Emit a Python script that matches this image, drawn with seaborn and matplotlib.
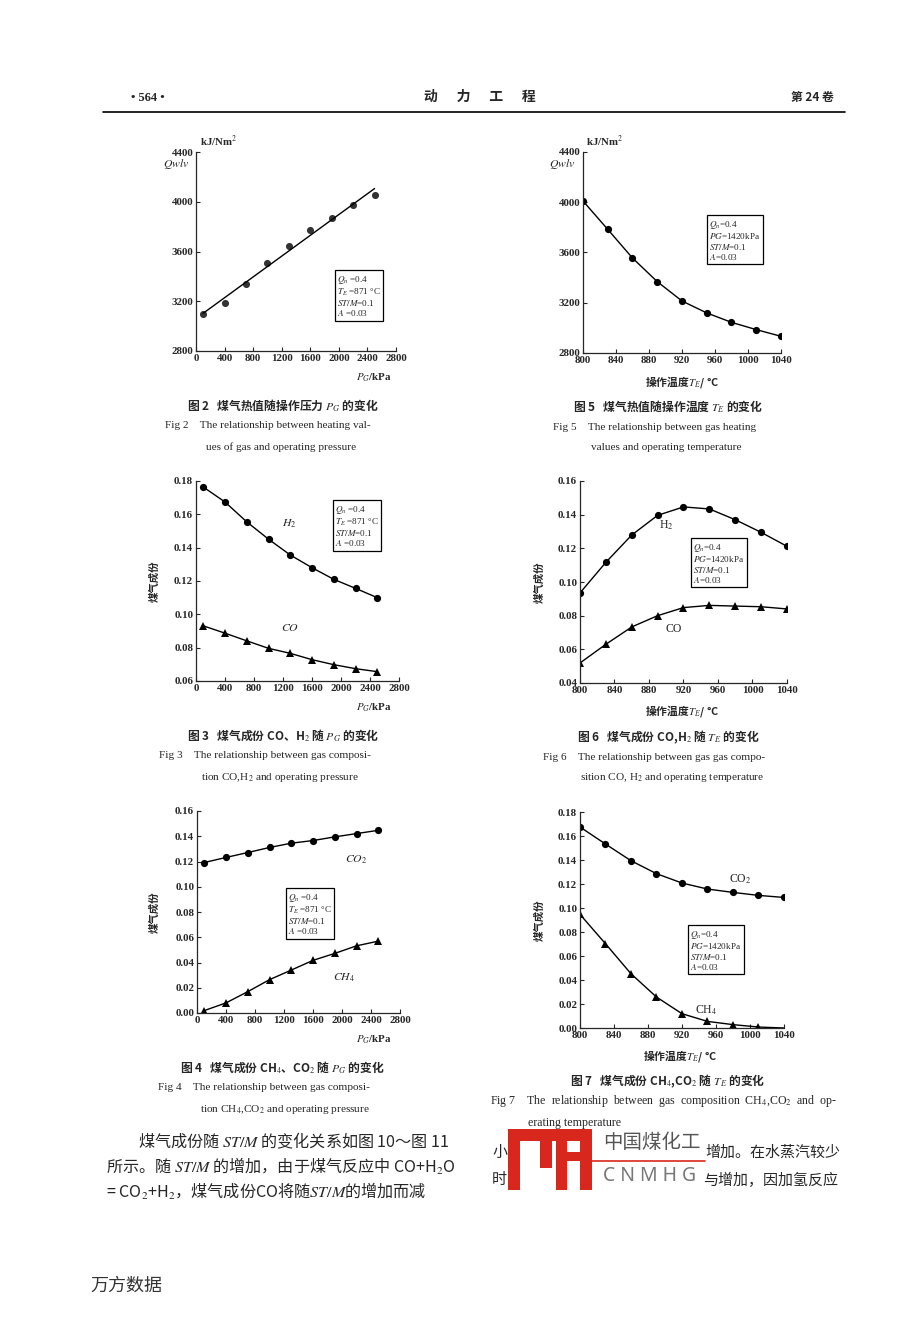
"""Gas heating value and composition vs operating pressure / temperature (page 564)."""
import matplotlib.pyplot as plt
from matplotlib.lines import Line2D
from matplotlib.patches import Rectangle
import seaborn as sns

# ---- data ----
pg_kpa = [100, 400, 700, 1000, 1300, 1600, 1900, 2200, 2500]
te_c = [800, 830, 860, 890, 920, 950, 980, 1010, 1040]

q_vs_pg = [3095, 3189, 3339, 3505, 3642, 3770, 3872, 3977, 4052]
q_vs_te = [4010, 3784, 3556, 3368, 3214, 3119, 3044, 2986, 2933]

h2_vs_pg = [0.1764, 0.1674, 0.1555, 0.1451, 0.1356, 0.1280, 0.1210, 0.1156, 0.1100]
co_vs_pg = [0.0931, 0.0887, 0.0841, 0.0796, 0.0766, 0.0728, 0.0698, 0.0674, 0.0656]
h2_vs_te = [0.0935, 0.1117, 0.1279, 0.1396, 0.1446, 0.1434, 0.1370, 0.1295, 0.1212]
co_vs_te = [0.0519, 0.0630, 0.0733, 0.0800, 0.0848, 0.0861, 0.0857, 0.0853, 0.0840]

co2_vs_pg = [0.1192, 0.1232, 0.1271, 0.1311, 0.1345, 0.1366, 0.1395, 0.1421, 0.1447]
ch4_vs_pg = [0.0019, 0.0080, 0.0169, 0.0264, 0.0340, 0.0417, 0.0472, 0.0532, 0.0569]
co2_vs_te = [0.1675, 0.1533, 0.1394, 0.1286, 0.1208, 0.1158, 0.1130, 0.1105, 0.1088]
ch4_vs_te = [0.0947, 0.0702, 0.0452, 0.0258, 0.0119, 0.0055, 0.0028, 0.0008, 0.0000]

pg_ticks = [0, 400, 800, 1200, 1600, 2000, 2400, 2800]
te_ticks = [800, 840, 880, 920, 960, 1000, 1040]
q_ticks = [2800, 3200, 3600, 4000, 4400]

box_pg = "$Q_n$ =0.4\n$T_E$ =871 °C\n$ST/M$=0.1\n$A$ =0.03"
box_te = "$Q_n$=0.4\n$PG$=1420kPa\n$ST/M$=0.1\n$A$=0.03"

W, H = 904, 1320
CJK = ["Noto Sans CJK SC", "DejaVu Sans"]

sns.set_style("ticks")
plt.rcParams["font.family"] = ["Liberation Serif", "Noto Sans CJK SC"]
plt.rcParams["mathtext.fontset"] = "stix"
plt.rcParams["axes.unicode_minus"] = False

fig = plt.figure(figsize=(W / 100, H / 100), dpi=100)


def put(x, y, s, size=8, ha="left", va="center", **kw):
    """Text at page pixel coordinates."""
    return fig.text(x / W, 1 - y / H, s, fontsize=size, ha=ha, va=va, **kw)


def panel(l, t, r, b, xlim, xticks, ylim, yticks, yfmt):
    ax = fig.add_axes([l / W, 1 - b / H, (r - l) / W, (b - t) / H])
    ax.set_xlim(xlim)
    ax.set_ylim(ylim)
    ax.set_xticks(xticks)
    ax.set_yticks(yticks)
    ax.set_yticklabels([yfmt.format(v) for v in yticks])
    sns.despine(ax=ax)
    for sp in ("left", "bottom"):
        ax.spines[sp].set_linewidth(0.9)
    ax.tick_params(direction="in", length=3, width=0.8, labelsize=7.8, pad=2)
    for lab in ax.get_xticklabels() + ax.get_yticklabels():
        lab.set_fontweight("bold")
    return ax


def series(ax, x, y, marker, ms=5.2):
    sns.lineplot(x=x, y=y, ax=ax, color="black", lw=1.0, marker=marker,
                 markersize=ms, markeredgewidth=0, markerfacecolor="black")


def finish(ax, l, r, t, b, xlabel, xlab_px, ylab_px=None):
    ax.set_xlabel(xlabel, fontsize=7.8, fontweight="bold", family=CJK if "操" in xlabel else None)
    ax.xaxis.set_label_coords((xlab_px[0] - l) / (r - l), (b - xlab_px[1]) / (b - t))
    if ylab_px is None:
        ax.set_ylabel("")
    else:
        ax.set_ylabel("煤气成份", fontsize=7.5, fontweight="bold", family=CJK)
        ax.yaxis.set_label_coords((ylab_px - l) / (r - l), 0.5)


def info_box(x, y, s):
    put(x, y, s, size=6.6, va="top", linespacing=1.05,
        bbox=dict(boxstyle="square,pad=0.25", fc="white", ec="black", lw=0.9))


# ---- Fig 2: heating value vs pressure ----
l, t, r, b = 196, 152, 396, 351
ax2 = panel(l, t, r, b, (0, 2800), pg_ticks, (2800, 4400), q_ticks, "{:d}")
sns.regplot(x=pg_kpa, y=q_vs_pg, ax=ax2, ci=None, color="black",
            scatter_kws=dict(s=26, linewidths=0),
            line_kws=dict(lw=1.0))
finish(ax2, l, r, t, b, "$P_G$/kPa", (374, 371))
put(200, 141, "kJ/Nm$^2$", size=7.8, weight="bold")
put(176, 164, "$\\mathit{Qwlv}$", size=8.5, ha="center")
info_box(337, 274, box_pg)

# ---- Fig 5: heating value vs temperature ----
l, t, r, b = 583, 152, 781, 353
ax5 = panel(l, t, r, b, (800, 1040), te_ticks, (2800, 4400), q_ticks, "{:d}")
series(ax5, te_c, q_vs_te, "o")
finish(ax5, l, r, t, b, "操作温度$T_E$/ °C", (682, 374))
put(586, 141, "kJ/Nm$^2$", size=7.8, weight="bold")
put(562, 164, "$\\mathit{Qwlv}$", size=8.5, ha="center")
info_box(709, 219, box_te)

# ---- Fig 3: CO, H2 vs pressure ----
l, t, r, b = 196, 481, 399, 681
ax3 = panel(l, t, r, b, (0, 2800), pg_ticks, (0.06, 0.18),
            [0.06, 0.08, 0.10, 0.12, 0.14, 0.16, 0.18], "{:.2f}")
series(ax3, pg_kpa, h2_vs_pg, "o")
series(ax3, pg_kpa, co_vs_pg, "^")
finish(ax3, l, r, t, b, "$P_G$/kPa", (374, 702), ylab_px=160)
info_box(335, 504, box_pg)
put(289, 524, "$H_2$", size=8.5, ha="center")
put(290, 628, "$CO$", size=8.5, ha="center")

# ---- Fig 6: CO, H2 vs temperature ----
l, t, r, b = 580, 481, 787, 683
ax6 = panel(l, t, r, b, (800, 1040), te_ticks, (0.04, 0.16),
            [0.04, 0.06, 0.08, 0.10, 0.12, 0.14, 0.16], "{:.2f}")
series(ax6, te_c, h2_vs_te, "o")
series(ax6, te_c, co_vs_te, "^")
finish(ax6, l, r, t, b, "操作温度$T_E$/ °C", (682, 703), ylab_px=545)
info_box(693, 542, box_te)
put(666, 525, "H$_2$", size=8.5, ha="center")
put(674, 629, "CO", size=8.5, ha="center")

# ---- Fig 4: CH4, CO2 vs pressure ----
l, t, r, b = 197, 811, 400, 1013
ax4 = panel(l, t, r, b, (0, 2800), pg_ticks, (0.0, 0.16),
            [0.00, 0.02, 0.04, 0.06, 0.08, 0.10, 0.12, 0.14, 0.16], "{:.2f}")
series(ax4, pg_kpa, co2_vs_pg, "o")
series(ax4, pg_kpa, ch4_vs_pg, "^")
finish(ax4, l, r, t, b, "$P_G$/kPa", (374, 1033), ylab_px=160)
info_box(288, 892, box_pg)
put(356, 860, "$CO_2$", size=8.5, ha="center")
put(344, 978, "$CH_4$", size=8.5, ha="center")

# ---- Fig 7: CH4, CO2 vs temperature ----
l, t, r, b = 580, 812, 784, 1028
ax7 = panel(l, t, r, b, (800, 1040), te_ticks, (0.0, 0.18),
            [0.00, 0.02, 0.04, 0.06, 0.08, 0.10, 0.12, 0.14, 0.16, 0.18], "{:.2f}")
series(ax7, te_c, co2_vs_te, "o")
series(ax7, te_c, ch4_vs_te, "^")
ax7.lines[-1].set_markevery(slice(0, 8))
finish(ax7, l, r, t, b, "操作温度$T_E$/ °C", (680, 1048), ylab_px=545)
info_box(690, 929, box_te)
put(740, 879, "CO$_2$", size=8.5, ha="center")
put(706, 1010, "CH$_4$", size=8.5, ha="center")

# ---- captions ----
cn_caps = [
    (283, 405, "图 2   煤气热值随操作压力 $P_G$ 的变化"),
    (668, 406, "图 5   煤气热值随操作温度 $T_E$ 的变化"),
    (283, 735, "图 3   煤气成份 CO、H$_2$ 随 $P_G$ 的变化"),
    (668, 737, "图 6   煤气成份 CO,H$_2$ 随 $T_E$ 的变化"),
    (282, 1067, "图 4   煤气成份 CH$_4$、CO$_2$ 随 $P_G$ 的变化"),
    (668, 1081, "图 7   煤气成份 CH$_4$,CO$_2$ 随 $T_E$ 的变化"),
]
for x, y, s in cn_caps:
    put(x, y, s, size=8.5, ha="center", family=CJK, weight="bold")

en_caps = [
    (165, 426, "Fig 2    The relationship between heating val-", 8.1),
    (206, 447, "ues of gas and operating pressure", 8.1),
    (553, 427, "Fig 5    The relationship between gas heating", 8.1),
    (591, 448, "values and operating temperature", 8.1),
    (159, 756, "Fig 3    The relationship between gas composi-", 8.1),
    (201, 777, "tion CO,H$_2$ and operating pressure", 8.1),
    (543, 757, "Fig 6    The relationship between gas gas compo-", 8.1),
    (580, 778, "sition CO, H$_2$ and operating temperature", 8.1),
    (158, 1088, "Fig 4    The relationship between gas composi-", 8.1),
    (200, 1109, "tion CH$_4$,CO$_2$ and operating pressure", 8.1),
    (490, 1101, "Fig 7    The  relationship  between  gas  composition  CH$_4$,CO$_2$  and  op-", 8.6),
    (528, 1123, "erating temperature", 8.6),
]
for x, y, s, fs in en_caps:
    put(x, y, s, size=fs)

# ---- page header ----
put(148, 98, "• 564 •", size=9, ha="center", weight="bold")
put(480, 97, "动      力      工      程", size=10, ha="center", family=CJK, weight="bold")
put(812, 98, "第 24 卷", size=8.5, ha="center", family=CJK, weight="bold")
fig.add_artist(Line2D([103 / W, 845 / W], [1 - 112 / H] * 2, color="black", lw=1.2))

# ---- body text (CJK first so mathtext pieces keep their glyphs) ----
body = [
    (138, 1141, "煤气成份随 $ST/M$ 的变化关系如图 10～图 11", 11.6),
    (106, 1166, "所示。随 $ST/M$ 的增加，由于煤气反应中 CO+H$_2$O", 11.6),
    (106, 1191, "= CO$_2$+H$_2$，煤气成份CO将随$ST/M$的增加而减", 11.6),
    (492, 1153, "小", 10.8),
    (705, 1153, "增加。在水蒸汽较少", 10.8),
    (492, 1180, "时", 10.8),
    (703, 1180, "与增加，因加氢反应", 10.8),
]
for x, y, s, fs in body:
    put(x, y, s, size=fs, family=CJK)

# ---- watermark logo ----
red = "#d8281e"
for x0, y0, x1, y1 in [(508, 1129, 520, 1190), (508, 1129, 592, 1141),
                       (540, 1129, 552, 1168), (556, 1141, 567, 1190),
                       (580, 1129, 592, 1190), (556, 1152, 592, 1161)]:
    fig.add_artist(Rectangle((x0 / W, 1 - y1 / H), (x1 - x0) / W, (y1 - y0) / H,
                             transform=fig.transFigure, color=red, lw=0))
fig.add_artist(Line2D([592 / W, 705 / W], [1 - 1161 / H] * 2, color=red, lw=1.2))
put(652, 1143, "中国煤化工", size=14, ha="center", family=CJK, color="#555555")
put(650, 1176, "C N M H G", size=14, ha="center", family=["Noto Sans"], color="#777777")

# ---- footer ----
put(90, 1286, "万方数据", size=13, family=CJK, color="#333333")

fig.savefig("out.png", dpi=100)
